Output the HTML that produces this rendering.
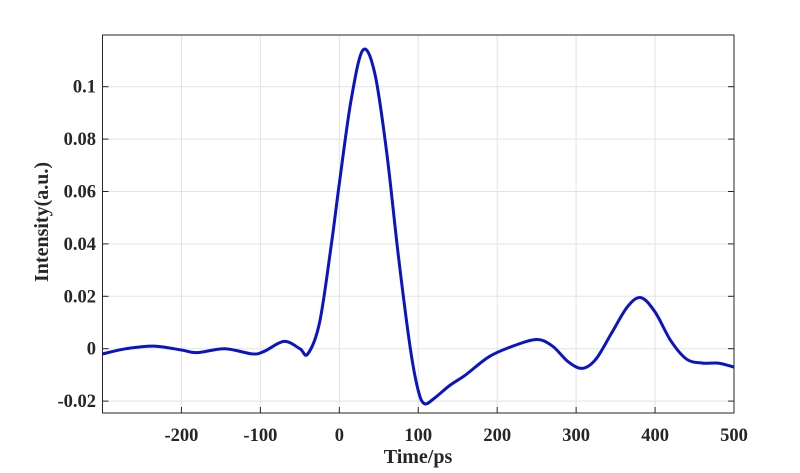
<!DOCTYPE html><html><head><style>body{margin:0;background:#fff}svg text{font-family:"Liberation Serif",serif;font-weight:bold;fill:#262626}</style></head><body>
<svg id="s" width="800" height="468" xmlns="http://www.w3.org/2000/svg">
<g id="grid" stroke="#e3e3e3" stroke-width="1"></g>
<path id="c" fill="none" stroke="#0a14c4" stroke-width="3" stroke-linejoin="round"/>
<rect x="102.5" y="35" width="631.5" height="378" fill="none" stroke="#262626" stroke-width="1"/>
<g id="lab" font-size="18.5"></g>
<text x="418" y="463" font-size="20" text-anchor="middle">Time/ps</text>
<text transform="translate(48,222) rotate(-90)" font-size="20" text-anchor="middle">Intensity(a.u.)</text>
</svg>
<script>
const X=t=>102.5+(t+300)*631.5/800, Y=v=>348.7-v*2620;
const g=document.getElementById('grid'),l=document.getElementById('lab');let h='',L='';
for(let t=-200;t<=500;t+=100){const x=X(t);h+=`<line x1="${x}" y1="35" x2="${x}" y2="413"/><line x1="${x}" y1="413" x2="${x}" y2="407" stroke="#262626"/>`;L+=`<text x="${x}" y="441" text-anchor="middle">${t}</text>`;}
[-0.02,0,0.02,0.04,0.06,0.08,0.1].forEach(v=>{const y=Y(v);h+=`<line x1="102.5" y1="${y}" x2="734" y2="${y}"/><line x1="102.5" y1="${y}" x2="108.5" y2="${y}" stroke="#262626"/><line x1="734" y1="${y}" x2="728" y2="${y}" stroke="#262626"/>`;L+=`<text x="96" y="${y+6}" text-anchor="end">${v}</text>`;});
g.innerHTML=h;l.innerHTML=L;
const p=[[-300,-.002],[-270,0],[-235,.001],[-200,-.0005],[-180,-.0015],[-145,0],[-110,-.002],[-95,-.001],[-70,.0028],[-50,0],[-40,-.002],[-25,.01],[-10,.04],[0,.063],[15,.095],[30,.114],[45,.105],[60,.075],[75,.035],[90,0],[100,-.016],[108,-.021],[120,-.019],[140,-.014],[160,-.01],[190,-.003],[220,.001],[250,.0035],[270,.001],[290,-.005],[308,-.0075],[325,-.004],[345,.006],[365,.016],[382,.0195],[400,.014],[420,.003],[440,-.004],[460,-.0055],[480,-.0055],[500,-.007]];
let d='M'+X(p[0][0])+','+Y(p[0][1]);
for(let i=0;i<p.length-1;i++){const a=p[Math.max(i-1,0)],b=p[i],c=p[i+1],e=p[Math.min(i+2,p.length-1)];
const c1=[X(b[0])+(X(c[0])-X(a[0]))/6,Y(b[1])+(Y(c[1])-Y(a[1]))/6],c2=[X(c[0])-(X(e[0])-X(b[0]))/6,Y(c[1])-(Y(e[1])-Y(b[1]))/6];
d+=`C${c1},${c2},${X(c[0])},${Y(c[1])}`;}
document.getElementById('c').setAttribute('d',d);
</script></body></html>
